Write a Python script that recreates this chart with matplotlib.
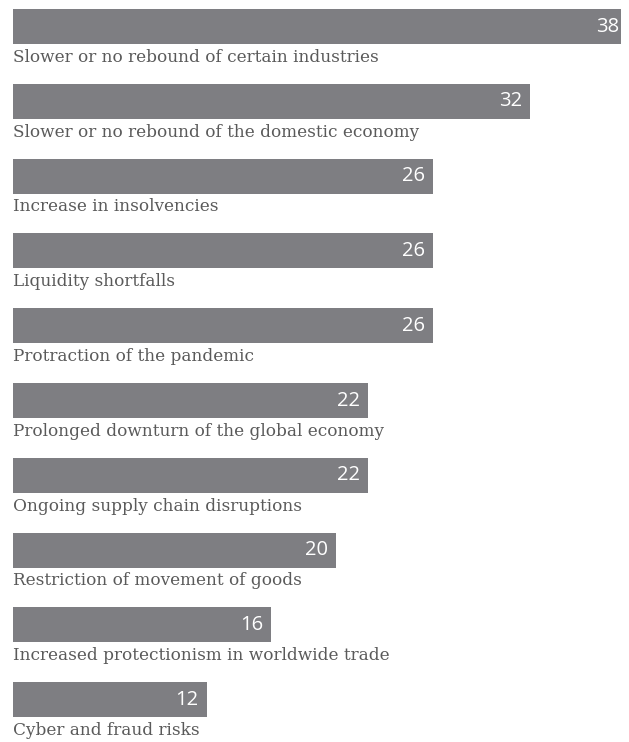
import matplotlib
matplotlib.use("Agg")
import matplotlib.pyplot as plt

categories = [
    "Slower or no rebound of certain industries",
    "Slower or no rebound of the domestic economy",
    "Increase in insolvencies",
    "Liquidity shortfalls",
    "Protraction of the pandemic",
    "Prolonged downturn of the global economy",
    "Ongoing supply chain disruptions",
    "Restriction of movement of goods",
    "Increased protectionism in worldwide trade",
    "Cyber and fraud risks",
]
values = [38, 32, 26, 26, 26, 22, 22, 20, 16, 12]

BAR = "#7e7e82"
TEXT = "#5a5a5a"

W, H = 629, 742
fig = plt.figure(figsize=(W / 100, H / 100), dpi=100)
fig.patch.set_facecolor("white")

left_px, right_px = 12.7, 621
px_per_unit = 16.17
row_px, first_center = 74.8, 26.5
ax = fig.add_axes([left_px / W, 0, (right_px - left_px) / W, 1])
ax.set_xlim(0, (right_px - left_px) / px_per_unit)
ax.set_ylim((H - first_center) / row_px, -first_center / row_px)
ax.set_axis_off()

ypos = list(range(len(values)))
ax.barh(ypos, values, height=35 / row_px, color=BAR, linewidth=0)

for y, v, name in zip(ypos, values, categories):
    ax.annotate(str(v), (v, y), xytext=(-6, 0), textcoords="offset points",
                ha="right", va="center", color="white", fontsize=14.5,
                family="Open Sans", annotation_clip=False)
    ax.annotate(name, (0, y + 17.5 / row_px), xytext=(0, -3.5),
                textcoords="offset points", ha="left", va="top",
                color=TEXT, fontsize=12.2, family="DejaVu Serif",
                annotation_clip=False)

fig.savefig("out.png", dpi=100, facecolor="white")
